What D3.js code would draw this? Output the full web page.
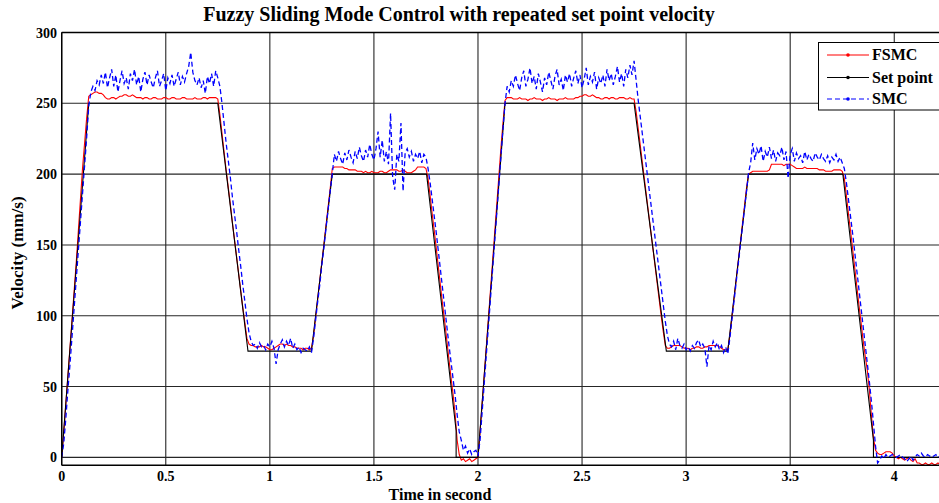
<!DOCTYPE html>
<html><head><meta charset="utf-8">
<script src="https://cdn.jsdelivr.net/npm/d3@7"></script>
<style>
body{margin:0;background:#fff}
text{font-family:"Liberation Serif","Times New Roman",serif;font-weight:bold;fill:#000}
</style>
</head><body>
<svg id="chart" width="939" height="503"></svg>
<script>
const chartTitle = "Fuzzy Sliding Mode Control with repeated set point velocity";
const xLabel = "Time in second";
const yLabel = "Velocity (mm/s)";
const sampleStep = 0.01;
const xTickValues = [0,0.5,1,1.5,2,2.5,3,3.5,4];
const xTickLabels = ["0","0.5","1","1.5","2","2.5","3","3.5","4"];
const yTickValues = [0,50,100,150,200,250,300];
const yTickLabels = ["0","50","100","150","200","250","300"];
const seriesNames = ["FSMC","Set point","SMC"];

const setPointTime  = [0,0.13,0.75,0.895,1.2,1.3,1.753,1.895,1.895,2.0,2.13,2.75,2.905,3.2,3.3,3.753,3.9,3.9,4.25];
const setPointValue = [0,250,250,75,75,200,200,19,0,0,250,250,75,75,200,200,12,0,0];

const fsmcValues = [
0,18,38,58,78,98,118,138,160,182,204,222,240,255,256,
257,258,258,257,257,256,
254,253,253,254,254,253,254,255,255,256,
256,255,255,256,255,254,254,254,253,254,
254,253,253,254,254,253,253,253,254,254,
253,253,254,254,253,253,253,254,254,253,
253,253,253,254,253,253,253,254,254,253,
254,254,254,254,253,
242,229,216,203,191,179,166,154,142,130,118,106,95,84,80,
79,79,78,78,78,79,78,78,77,76,
76,77,78,79,80,80,79,80,79,79,
78,78,77,77,77,76,77,77,76,77,
86,99,112,125,138,151,164,177,190,204,
205,205,205,205,205,204,204,203,203,203,
203,202,202,202,201,202,201,201,202,201,
201,201,202,202,201,201,202,203,203,203,
203,202,202,203,202,201,201,201,202,203,
205,205,205,205,204,
197,185,172,160,147,134,121,108,96,83,70,57,45,31,
12,2,-2,-1,-3,-2,-1,-3,-2,-1,0,
18,38,58,78,98,118,138,158,178,198,218,236,252,254,
254,254,253,253,253,254,253,253,253,252,253,
253,254,253,253,253,252,253,253,254,253,
253,253,252,253,253,253,254,253,253,253,
253,254,254,255,255,256,256,255,255,256,
255,254,254,253,253,254,254,253,254,254,
253,253,254,254,254,253,253,254,253,253,
244,232,220,208,196,184,172,160,148,136,124,112,100,89,79,
77,77,78,79,79,79,79,78,77,77,
77,76,77,77,78,78,77,77,78,78,
79,79,79,79,79,78,77,76,76,76,
86,99,112,125,138,151,164,177,190,200,
201,202,202,202,202,202,202,202,202,203,
207,207,207,207,207,207,206,207,207,207,
206,205,204,204,204,204,205,204,204,204,
204,204,204,203,203,203,202,202,202,202,
203,203,203,203,202,
197,185,172,160,147,134,121,108,96,83,72,62,48,30,
14,5,3,2,2,3,4,4,4,3,1,
0,-1,0,-1,-2,-1,0,-2,-3,-1,
-4,-4,-5,-5,-4,-5,-5,-4,-5,-5,-4,-5,-5,-5,-5
];

const smcValues = [
0,10,28,48,66,86,106,126,146,166,186,206,226,248,258,
262,259,266,263,270,264,272,261,268,274,
262,270,258,266,273,264,268,260,271,266,
274,263,269,258,267,272,263,270,265,261,
268,273,262,266,271,259,268,264,270,262,
267,272,263,269,265,271,276,286,272,266,
263,268,261,266,257,269,264,271,262,273,268,
262,250,236,222,210,198,184,172,160,147,135,122,110,98,88,82,79,
80,77,81,78,79,76,80,78,82,77,
66,76,80,83,78,82,79,84,77,80,
76,78,74,77,76,75,78,74,
84,97,110,122,136,148,162,175,188,200,
214,209,216,211,207,215,210,217,212,208,
216,211,219,213,209,217,212,221,214,210,
218,230,212,224,209,216,207,243,198,189,
214,209,236,188,215,218,212,216,209,214,
211,216,208,214,212,
204,194,182,170,158,145,132,119,106,93,80,68,56,44,30,18,12,
5,8,3,6,2,4,5,1,
12,32,52,72,92,112,132,152,172,192,212,232,250,262,
258,266,262,270,264,259,268,273,262,267,
275,264,269,260,271,265,258,268,263,272,
266,260,269,274,263,267,259,270,265,271,
262,268,273,264,270,261,267,275,263,269,
265,272,260,268,264,270,262,274,266,271,
263,269,276,265,271,262,274,268,277,270,280,
266,252,240,228,216,204,192,180,168,156,144,132,120,108,96,86,80,
78,82,76,84,79,77,80,76,78,75,
79,77,81,83,78,80,77,64,79,76,
82,78,81,76,79,74,78,73,
84,97,110,123,136,149,162,175,188,201,
208,222,210,218,214,220,209,216,212,219,
211,217,209,215,213,219,210,216,197,214,
218,209,215,211,213,208,216,210,214,211,
209,215,212,210,214,211,209,213,208,212,
210,214,209,212,208,
204,194,182,170,158,145,132,119,106,93,80,67,54,40,24,8,-4,
-2,1,-1,2,0,1,2,1,0,1,
2,0,-1,-3,-1,1,-2,0,2,1,
3,1,0,2,1,0,1,2,0,1,0,1,0
];

const svg = d3.select("#chart");
const W = 939, H = 503;
const plot = {left: 61.7, top: 32.5, bottom: 465.3, right: 946.3};

const x = d3.scaleLinear().domain([0, 4.25]).range([plot.left, plot.right]);
const y = d3.scaleLinear().domain([-5.6, 300]).range([plot.bottom, plot.top]);

svg.append("rect").attr("width", W).attr("height", H).attr("fill", "#fff");

svg.append("defs").append("clipPath").attr("id", "clip")
  .append("rect").attr("x", plot.left).attr("y", plot.top)
  .attr("width", W - plot.left).attr("height", plot.bottom - plot.top);

// grid
const grid = svg.append("g").attr("stroke", "#262626").attr("stroke-width", 1.1);
grid.selectAll("line.v").data(xTickValues).join("line")
  .attr("x1", d => x(d)).attr("x2", d => x(d))
  .attr("y1", plot.top).attr("y2", plot.bottom);
grid.selectAll("line.h").data(yTickValues).join("line")
  .attr("x1", plot.left).attr("x2", W)
  .attr("y1", d => y(d)).attr("y2", d => y(d));

// data
const data = svg.append("g").attr("clip-path", "url(#clip)");
const fsmc = fsmcValues.map((v, i) => [i * sampleStep, v]);
const smc = smcValues.map((v, i) => [i * sampleStep, v]);
const sp = setPointTime.map((t, i) => [t, setPointValue[i]]);
const line = d3.line().x(d => x(d[0])).y(d => y(d[1]));

data.append("path").attr("d", line(fsmc)).attr("fill", "none")
  .attr("stroke", "#ff0000").attr("stroke-width", 1.1);
data.append("path").attr("d", line(sp)).attr("fill", "none")
  .attr("stroke", "#000").attr("stroke-width", 1.1);
data.append("path").attr("d", line(smc)).attr("fill", "none")
  .attr("stroke", "#0000ff").attr("stroke-width", 1.3).attr("stroke-dasharray", "5,3");

// axes box
const box = svg.append("g").attr("stroke", "#000").attr("stroke-width", 1.4);
box.append("line").attr("x1", plot.left).attr("x2", plot.left).attr("y1", plot.top).attr("y2", plot.bottom);
box.append("line").attr("x1", plot.left).attr("x2", W).attr("y1", plot.top).attr("y2", plot.top);
box.append("line").attr("x1", plot.left).attr("x2", W).attr("y1", plot.bottom).attr("y2", plot.bottom);

// tick labels
svg.append("g").selectAll("text").data(xTickValues).join("text")
  .attr("x", d => x(d)).attr("y", 481).attr("text-anchor", "middle")
  .attr("font-size", 14).text((d, i) => xTickLabels[i]);
svg.append("g").selectAll("text").data(yTickValues).join("text")
  .attr("x", 57).attr("y", d => y(d) + 5).attr("text-anchor", "end")
  .attr("font-size", 14).text((d, i) => yTickLabels[i]);

// titles
svg.append("text").attr("x", 459).attr("y", 21).attr("text-anchor", "middle")
  .attr("font-size", 20).text(chartTitle);
svg.append("text").attr("x", 440).attr("y", 500).attr("text-anchor", "middle")
  .attr("font-size", 16).text(xLabel);
svg.append("text").attr("transform", "translate(23,253) rotate(-90)")
  .attr("text-anchor", "middle").attr("font-size", 17).text(yLabel);

// legend
const lg = svg.append("g");
lg.append("rect").attr("x", 818.5).attr("y", 42.5).attr("width", 130).attr("height", 67.5)
  .attr("fill", "#fff").attr("stroke", "#000").attr("stroke-width", 1);
const legendColors = ["#ff0000", "#000", "#0000ff"];
const legendDash = [null, null, "5,3"];
const legendY = [55, 77.5, 99];
seriesNames.forEach((name, i) => {
  lg.append("line").attr("x1", 827).attr("x2", 869).attr("y1", legendY[i]).attr("y2", legendY[i])
    .attr("stroke", legendColors[i]).attr("stroke-width", 1.1)
    .attr("stroke-dasharray", legendDash[i]);
  lg.append("circle").attr("cx", 848).attr("cy", legendY[i]).attr("r", 1.8).attr("fill", legendColors[i]);
  lg.append("text").attr("x", 872).attr("y", legendY[i] + 5).attr("font-size", 16).text(name);
});
</script>
</body></html>
